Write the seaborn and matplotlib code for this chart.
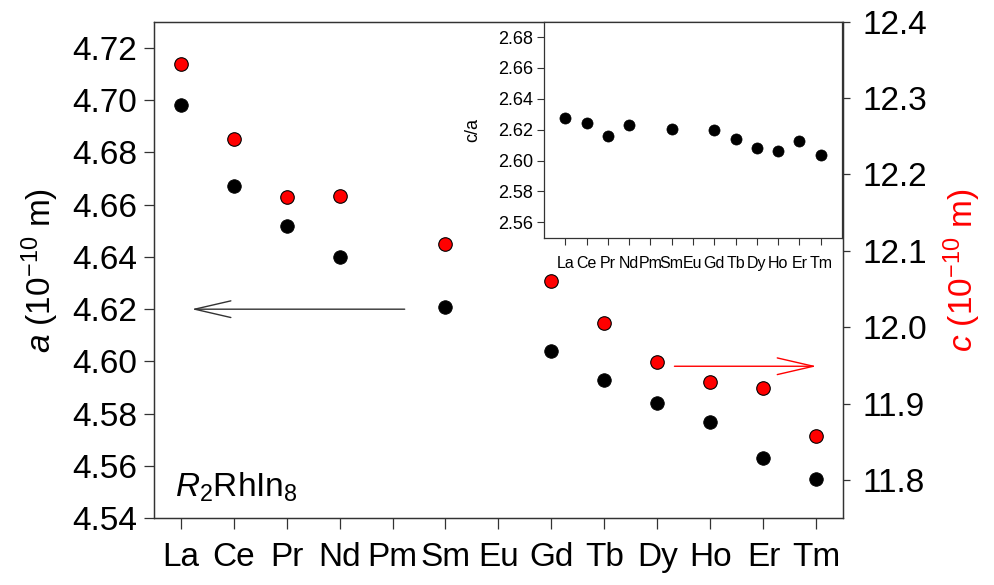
import matplotlib
matplotlib.use("Agg")
import matplotlib.pyplot as plt
import seaborn as sns
import pandas as pd
import numpy as np

elements = ['La', 'Ce', 'Pr', 'Nd', 'Pm', 'Sm', 'Eu', 'Gd', 'Tb', 'Dy', 'Ho', 'Er', 'Tm']
measured = ['La', 'Ce', 'Pr', 'Nd', 'Sm', 'Gd', 'Tb', 'Dy', 'Ho', 'Er', 'Tm']
a_values = [4.698, 4.667, 4.652, 4.640, 4.621, 4.604, 4.593, 4.584, 4.577, 4.563, 4.555]
c_values = [12.344, 12.247, 12.171, 12.172, 12.109, 12.060, 12.006, 11.955, 11.928, 11.920, 11.858]
ca_values = [2.6277, 2.6244, 2.6162, 2.6233, 2.6205, 2.6197, 2.6141, 2.6083, 2.6061, 2.6124, 2.6033]

a_ticks = [4.54, 4.56, 4.58, 4.60, 4.62, 4.64, 4.66, 4.68, 4.70, 4.72]
c_ticks = [11.8, 11.9, 12.0, 12.1, 12.2, 12.3, 12.4]
ca_ticks = [2.56, 2.58, 2.60, 2.62, 2.64, 2.66, 2.68]

df = pd.DataFrame({
    'x': [elements.index(e) for e in measured],
    'a': a_values,
    'c': c_values,
    'ca': ca_values,
})

sns.set_style('ticks')
plt.rcParams['font.family'] = ['Liberation Sans', 'DejaVu Sans']
plt.rcParams['mathtext.fontset'] = 'custom'
plt.rcParams['mathtext.rm'] = 'Liberation Sans'
plt.rcParams['mathtext.it'] = 'Liberation Sans:italic'
plt.rcParams['mathtext.bf'] = 'Liberation Sans:bold'
plt.rcParams['text.color'] = 'black'
plt.rcParams['axes.labelcolor'] = 'black'
plt.rcParams['xtick.labelcolor'] = 'black'
plt.rcParams['ytick.labelcolor'] = 'black'

spine_col = '#333333'
fig = plt.figure(figsize=(9.95, 5.85), dpi=100)
ax = fig.add_axes([0.1548, 0.114, 0.8472 - 0.1548, 0.963 - 0.114])
ax2 = ax.twinx()

sns.scatterplot(data=df, x='x', y='a', ax=ax, color='black', s=95,
                edgecolor='black', linewidth=0.6, zorder=3, legend=False)
sns.scatterplot(data=df, x='x', y='c', ax=ax2, color='#ff0000', s=95,
                edgecolor='black', linewidth=0.8, zorder=3, legend=False)

ax.set_xlim(-0.5, 12.5)
ax.set_ylim(4.54, 4.73)
ax2.set_ylim(11.75, 12.40)
ax.set_xticks(range(len(elements)))
ax.set_xticklabels(elements, fontsize=24, color='black')
ax.set_yticks(a_ticks)
ax.set_yticklabels([f'{v:.2f}' for v in a_ticks], fontsize=24, color='black')
ax2.set_yticks(c_ticks)
ax2.set_yticklabels([f'{v:.1f}' for v in c_ticks], fontsize=24, color='black')
ax.set_xlabel('')
ax.set_ylabel(r'$a$ (10$^{-10}$ m)', fontsize=24, labelpad=8, color='black')
ax2.set_ylabel(r'$c$ (10$^{-10}$ m)', fontsize=24, color='#ff0000', labelpad=10)

for a_ in (ax, ax2):
    for sp in a_.spines.values():
        sp.set_visible(True)
        sp.set_color(spine_col)
        sp.set_linewidth(0.9)
ax.tick_params(axis='x', direction='out', length=8, width=0.9, color=spine_col, pad=9)
ax.tick_params(axis='y', direction='out', length=7, width=0.9, color=spine_col, pad=5)
ax2.tick_params(axis='y', direction='out', length=5, width=0.9, color=spine_col, pad=9)

ax.text(0.030, 0.043, r'$R_2$RhIn$_8$', transform=ax.transAxes, fontsize=24,
        ha='left', va='baseline', color='black')

# arrows
ax.annotate('', xy=(0.21, 4.62), xytext=(4.23, 4.62),
            arrowprops=dict(arrowstyle='->,head_length=2.6,head_width=0.6',
                            color='#333333', lw=1.0, shrinkA=0, shrinkB=0))
ax2.annotate('', xy=(12.0, 11.949), xytext=(9.32, 11.949),
             arrowprops=dict(arrowstyle='->,head_length=2.6,head_width=0.6',
                             color='#ff0000', lw=1.0, shrinkA=0, shrinkB=0))

# inset
axi = fig.add_axes([0.5467, 0.5937, 0.8462 - 0.5467, 0.963 - 0.5937])
axi.set_zorder(5)
sns.scatterplot(data=df, x='x', y='ca', ax=axi, color='black', s=64,
                edgecolor='black', linewidth=0.5, legend=False)
axi.set_xlim(-1, 13)
axi.set_ylim(2.55, 2.69)
axi.set_xticks(range(len(elements)))
axi.set_xticklabels(elements, fontsize=11.5, color='black')
axi.set_yticks(ca_ticks)
axi.set_yticklabels([f'{v:.2f}' for v in ca_ticks], fontsize=13, color='black')
axi.set_xlabel('')
axi.set_ylabel('c/a', fontsize=13, labelpad=12, color='black')
for sp in axi.spines.values():
    sp.set_visible(True)
    sp.set_color(spine_col)
    sp.set_linewidth(0.9)
axi.tick_params(axis='x', direction='out', length=5, width=0.8, color=spine_col, pad=8)
axi.tick_params(axis='y', direction='out', length=5, width=0.8, color=spine_col, pad=3)

fig.savefig('out.png', dpi=100)
